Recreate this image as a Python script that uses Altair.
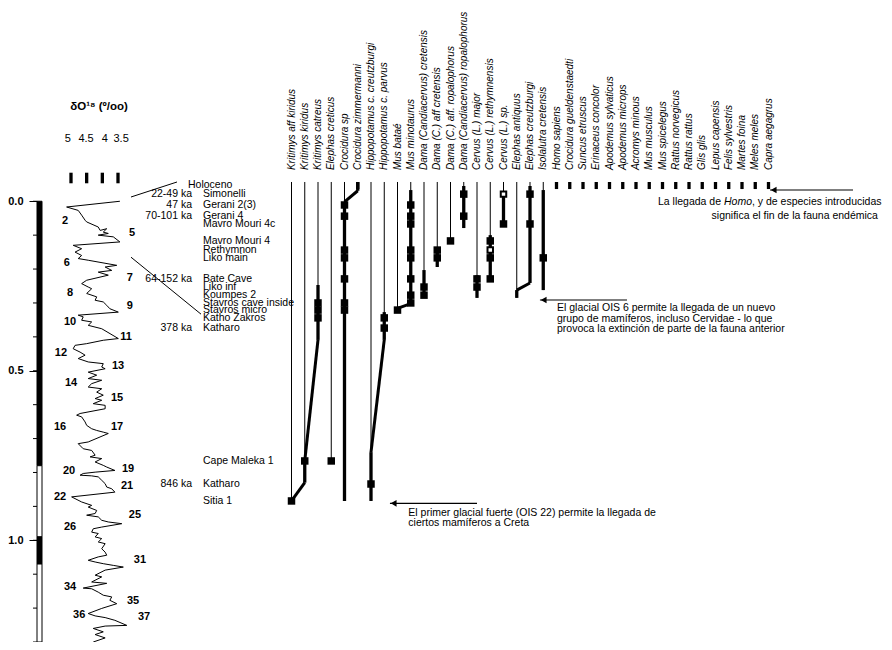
import altair as alt
import pandas as pd

FONT = "Liberation Sans"

# ---------------- data ----------------
# magnetic polarity column (Ma)
polarity_top = [0.0, 0.78, 0.99, 1.07]
polarity_bottom = [0.78, 0.99, 1.07, 1.30]
polarity_state = ["normal", "reversed", "normal", "reversed"]
age_minor_ticks = [round(0.1 * k, 1) for k in range(14)]

# delta O18 curve (age in Ma, value in per mil)
d18_age = [0.000, 0.017, 0.027, 0.041, 0.056, 0.061, 0.076, 0.086, 0.081, 0.091,
           0.095, 0.100, 0.105, 0.120, 0.130, 0.140, 0.150, 0.160, 0.169, 0.174,
           0.189, 0.194, 0.204, 0.209, 0.218, 0.233, 0.243, 0.253, 0.258, 0.272,
           0.282, 0.292, 0.297, 0.307, 0.317, 0.327, 0.336, 0.341, 0.351, 0.356,
           0.366, 0.376, 0.405, 0.410, 0.420, 0.425, 0.435, 0.445, 0.454, 0.464,
           0.474, 0.479, 0.489, 0.494, 0.504, 0.513, 0.523, 0.528, 0.538, 0.548,
           0.553, 0.563, 0.572, 0.582, 0.587, 0.597, 0.602, 0.612, 0.626, 0.631,
           0.636, 0.651, 0.661, 0.671, 0.676, 0.681, 0.685, 0.710, 0.715, 0.730,
           0.735, 0.749, 0.754, 0.759, 0.769, 0.779, 0.784, 0.794, 0.799, 0.803,
           0.808, 0.810, 0.813, 0.823, 0.833, 0.843, 0.848, 0.858, 0.872, 0.887,
           0.897, 0.902, 0.912, 0.921, 0.926, 0.931, 0.941, 0.946, 0.951, 0.961,
           0.966, 0.976, 0.980, 0.990, 0.995, 1.005, 1.010, 1.025, 1.035, 1.044,
           1.049, 1.059, 1.064, 1.069, 1.074, 1.079, 1.088, 1.103, 1.108, 1.123,
           1.127, 1.141, 1.143, 1.153, 1.162, 1.167, 1.177, 1.187, 1.201, 1.216,
           1.223, 1.228, 1.236, 1.251, 1.253, 1.260, 1.270, 1.278, 1.288, 1.300]
d18_value = [3.44, 5.14, 4.77, 4.66, 4.55, 4.50, 4.13, 4.07, 3.86, 3.97,
             3.81, 4.13, 3.65, 3.44, 4.93, 4.66, 4.87, 4.66, 4.77, 4.45,
             3.54, 3.91, 3.70, 4.13, 3.81, 4.50, 4.66, 4.45, 4.34, 4.50,
             4.18, 4.23, 3.97, 3.86, 3.76, 3.49, 4.77, 4.61, 4.66, 4.34,
             4.45, 4.02, 3.49, 3.97, 4.50, 4.87, 4.93, 4.71, 4.55, 4.77,
             4.45, 3.97, 4.02, 3.91, 4.45, 4.18, 4.45, 4.02, 4.34, 4.45,
             4.02, 4.18, 3.97, 4.23, 4.02, 4.29, 3.91, 3.91, 4.71, 4.82,
             4.66, 4.55, 4.50, 4.34, 4.18, 3.97, 3.81, 4.45, 4.77, 4.61,
             4.34, 4.23, 4.39, 4.02, 4.23, 3.97, 3.86, 3.60, 4.23, 4.61,
             4.71, 4.34, 4.13, 4.02, 3.91, 3.86, 3.70, 3.60, 4.98, 4.66,
             4.34, 4.45, 4.18, 4.23, 4.50, 4.13, 4.02, 3.81, 3.38, 4.02,
             4.29, 4.34, 4.13, 4.23, 4.02, 4.13, 3.91, 4.02, 3.91, 3.86,
             4.13, 4.45, 4.23, 3.97, 3.65, 3.33, 3.91, 4.23, 4.02, 4.34,
             3.86, 4.61, 4.34, 4.13, 3.97, 3.70, 3.76, 3.54, 4.02, 4.45,
             4.23, 3.91, 3.60, 3.22, 3.91, 4.29, 3.97, 4.23, 3.91, 4.29]

# marine isotope stage labels
stage_name = ["2", "5", "6", "7", "8", "9", "10", "11", "12", "13", "14", "15", "16",
              "17", "19", "20", "21", "22", "25", "26", "31", "34", "35", "36", "37"]
stage_age = [0.058, 0.095, 0.183, 0.227, 0.271, 0.310, 0.357, 0.401, 0.448, 0.487,
             0.537, 0.581, 0.667, 0.667, 0.791, 0.796, 0.841, 0.873, 0.926, 0.962,
             1.059, 1.139, 1.180, 1.221, 1.227]
stage_d18 = [5.19, 3.05, 5.13, 3.12, 5.03, 3.12, 5.03, 3.24, 5.32, 3.50,
             5.00, 3.53, 5.35, 3.53, 3.18, 5.06, 3.21, 5.35, 2.96, 5.03,
             2.80, 5.03, 3.02, 4.74, 2.67]

d18_tick_values = [5, 4.5, 4, 3.5]
d18_tick_labels = ["5", "4.5", "4", "3.5"]
d18_label_at = [5.10, 4.52, 3.92, 3.40]

# connector lines from the curve to the site list (d18, age)
conn_d1 = [3.085, 3.085]
conn_a1 = [-0.0125, 0.165]
conn_d2 = [1.617, 0.851]
conn_a2 = [-0.0568, 0.333]

# sites, in stratigraphic plotting position (age-axis units)
site_name = ["Holoceno", "Simonelli", "Gerani 2(3)", "Gerani 4", "Mavro Mouri 4c",
             "Mavro Mouri 4", "Rethymnon", "Liko main", "Bate Cave", "Liko inf",
             "Koumpes 2", "Stavros cave inside", "Stavros micro", "Katho Zakros",
             "Katharo", "Cape Maleka 1", "Katharo", "Sitia 1"]
site_pos = [-0.048, -0.021, 0.011, 0.044, 0.067, 0.117, 0.144, 0.167, 0.229, 0.253,
            0.277, 0.300, 0.321, 0.344, 0.374, 0.766, 0.834, 0.884]
site_age_label = ["", "22-49 ka", "47 ka", "70-101 ka", "", "", "", "", "64-152 ka", "",
                  "", "", "", "", "378 ka", "", "846 ka", ""]

taxa = ["Kritimys aff kiridus", "Kritimys kiridus", "Kritimys catreus", "Elephas creticus",
        "Crocidura sp", "Crocidura zimmermanni", "Hippopotamus c. creutzburgi",
        "Hippopotamus c. parvus", "Mus bataé", "Mus minotaurus",
        "Dama (Candiacervus) cretensis", "Dama (C.) aff cretensis",
        "Dama (C.) aff. ropalophorus", "Dama (Candiacervus) ropalophorus",
        "Cervus (L.) major", "Cervus (L.) rethymnensis", "Cervus (L.) sp.",
        "Elephas antiquus", "Elephas creutzburgi", "Isolalutra cretensis",
        "Homo sapiens", "Crocidura gueldenstaedti", "Suncus etruscus", "Erinaceus concolor",
        "Apodemus sylvaticus", "Apodemus microps", "Acromys minous", "Mus musculus",
        "Mus spicelegus", "Rattus norvegicus", "Rattus rattus", "Glis glis",
        "Lepus capensis", "Felis sylvestris", "Martes foina", "Meles meles", "Capra aegagrus"]
n_fossil = 20
HEADER_TOP = -0.0568
EXTANT_BOTTOM = -0.036
LABEL_BASE = -0.092

# occurrences: taxon index, site index, open symbol
occ_taxon = [0, 1, 2, 2, 2, 3, 4, 4, 4, 4, 4, 4, 4, 6, 7, 7, 8,
             9, 9, 9, 9, 9, 9, 9, 9, 10, 10, 11, 11, 12, 13, 13, 14, 14,
             15, 15, 15, 15, 16, 16, 18, 18, 19]
occ_site = [17, 15, 11, 12, 13, 15, 2, 3, 6, 7, 8, 11, 12, 16, 13, 14, 12,
            2, 3, 4, 6, 7, 8, 10, 11, 9, 10, 6, 7, 5, 1, 3, 8, 9,
            5, 6, 7, 8, 1, 4, 1, 4, 7]
occ_open = [0, 0, 0, 0, 0, 0, 0, 0, 0, 0, 0, 0, 0, 0, 0, 0, 0,
            0, 0, 0, 0, 0, 0, 0, 0, 0, 0, 0, 0, 0, 0, 0, 0, 0,
            0, 1, 0, 0, 1, 0, 0, 0, 0]

# thick range bars: taxon index, top, bottom
range_taxon = [1, 2, 4, 5, 6, 7, 9, 10, 11, 13, 14, 15, 16, 17, 18, 19]
range_top = [0.766, 0.247, 0.002, HEADER_TOP, 0.74, 0.327, -0.033, 0.203, 0.135,
             -0.045, 0.218, 0.100, -0.021, 0.262, -0.045, -0.033]
range_bottom = [0.830, 0.409, 0.884, -0.031, 0.884, 0.409, 0.306, 0.285, 0.194,
                0.079, 0.285, 0.238, 0.067, 0.285, 0.241, 0.262]

# evolutionary links between lineages
link_from = [5, 2, 1, 7, 9, 18]
link_from_pos = [-0.031, 0.409, 0.830, 0.409, 0.302, 0.241]
link_to = [4, 1, 0, 6, 8, 17]
link_to_pos = [0.002, 0.766, 0.884, 0.740, 0.316, 0.262]

# annotation arrows (taxon-axis units, age-axis units)
arrow_tip = [36.11, 18.75, 7.43]
arrow_tail = [42.38, 25.32, 14.0]
arrow_pos = [-0.0332, 0.2912, 0.891]

note_text = ["La llegada de ", "Homo", ", y de especies introducidas",
             "significa el fin de la fauna endémica",
             "El glacial OIS 6 permite la llegada de un nuevo",
             "grupo de mamíferos, incluso Cervidae - lo que",
             "provoca la extinción de parte de la fauna anterior",
             "El primer glacial fuerte (OIS 22) permite la llegada de",
             "ciertos mamíferos a Creta"]
note_x = [27.66, 32.64, 34.75, 44.26, 20.04, 20.04, 20.04, 8.82, 8.82]
note_pos = [0.0022, 0.0022, 0.0022, 0.0435, 0.3134, 0.3459, 0.3777, 0.9186, 0.95]
note_align = ["left", "left", "left", "right", "left", "left", "left", "left", "left"]
note_italic = [0, 1, 0, 0, 0, 0, 0, 0, 0]

# ---------------- tables ----------------
pol_df = pd.DataFrame({"top": polarity_top, "bottom": polarity_bottom, "state": polarity_state})
minor_df = pd.DataFrame({"v": age_minor_ticks})
curve_df = pd.DataFrame({"i": range(len(d18_age)), "age": d18_age, "d": d18_value})
stage_df = pd.DataFrame({"name": stage_name, "age": stage_age, "d": stage_d18})
dtick_df = pd.DataFrame({"d": d18_tick_values, "lab": d18_tick_labels, "ld": d18_label_at,
                         "t1": [-0.0842] * 4, "t2": [-0.053] * 4, "ly": [-0.1836] * 4})
title_df = pd.DataFrame({"d": [4.106], "age": [-0.278], "t": ["δO¹⁸ (º/oo)"]})
conn_df = pd.DataFrame({"d1": conn_d1, "a1": conn_a1, "d2": conn_d2, "a2": conn_a2})
site_df = pd.DataFrame({"name": site_name, "pos": site_pos, "age": site_age_label})
taxa_df = pd.DataFrame({"ti": range(len(taxa)), "name": taxa, "y": [LABEL_BASE] * len(taxa)})

end = {}
for t, s in zip(occ_taxon, occ_site):
    end[t] = max(end.get(t, -1), site_pos[s])
for t, b in zip(range_taxon, range_bottom):
    end[t] = max(end.get(t, -1), b)
for a, ap, b, bp in zip(link_from, link_from_pos, link_to, link_to_pos):
    end[a] = max(end.get(a, -1), ap)
    end[b] = max(end.get(b, -1), bp)
thin_df = pd.DataFrame({"ti": list(range(n_fossil)), "top": [HEADER_TOP] * n_fossil,
                        "bottom": [end[t] for t in range(n_fossil)]})
extant_idx = [5] + list(range(n_fossil, len(taxa)))
extant_df = pd.DataFrame({"ti": extant_idx, "top": [HEADER_TOP] * len(extant_idx),
                          "bottom": [EXTANT_BOTTOM] * len(extant_idx)})
range_df = pd.DataFrame({"ti": range_taxon, "top": range_top, "bottom": range_bottom})
link_df = pd.DataFrame({"a": link_from, "ap": link_from_pos, "b": link_to, "bp": link_to_pos})
occ_df = pd.DataFrame({"ti": occ_taxon, "pos": [site_pos[s] for s in occ_site], "open": occ_open})
arrow_df = pd.DataFrame({"tip": arrow_tip, "tail": arrow_tail, "pos": arrow_pos,
                         "head": [x + 0.28 for x in arrow_tip]})
note_df = pd.DataFrame({"t": note_text, "x": note_x, "pos": note_pos,
                        "align": note_align, "it": note_italic})

# ---------------- scales ----------------
yscale = alt.Scale(domain=[-0.57, 1.3], reverse=True, nice=False, zero=False)
yaxis = alt.Axis(values=[0.0, 0.5, 1.0], format=".1f", domain=False, tickSize=8,
                 tickColor="black", tickWidth=1, labelPadding=6, labelFont=FONT,
                 labelFontSize=11, labelFontWeight="bold", labelColor="black",
                 grid=False, title=None)


def Y(f):
    return alt.Y(f, type="quantitative", scale=yscale, axis=yaxis, title=None)


dscale = alt.Scale(domain=[3.5, 5.0], range=[81, 34], nice=False, zero=False)
tscale = alt.Scale(domain=[0, 36], range=[254.5, 731.5], nice=False, zero=False)


def XD(f):
    return alt.X(f, type="quantitative", scale=dscale, axis=None)


def XT(f):
    return alt.X(f, type="quantitative", scale=tscale, axis=None)


txt = dict(font=FONT, color="black")

# ---------------- layers ----------------
polarity = alt.Chart(pol_df).mark_rect(stroke="black", strokeWidth=1).encode(
    x=alt.value(0), x2=alt.value(5), y=Y("top"), y2=alt.Y2("bottom"),
    fill=alt.Fill("state:N", scale=alt.Scale(domain=["normal", "reversed"], range=["black", "white"]), legend=None))
minor = alt.Chart(minor_df).mark_rule(color="black", strokeWidth=1).encode(
    x=alt.value(-4), x2=alt.value(0), y=Y("v"))
curve = alt.Chart(curve_df).mark_line(color="black", strokeWidth=1).encode(
    x=XD("d"), y=Y("age"), order="i:Q")
stages = alt.Chart(stage_df).mark_text(fontSize=11, fontWeight="bold", align="center",
                                       baseline="middle", **txt).encode(
    x=XD("d"), y=Y("age"), text="name:N")
dticks = alt.Chart(dtick_df).mark_rule(color="black", strokeWidth=3.3).encode(
    x=XD("d"), y=Y("t1"), y2=alt.Y2("t2"))
dlabels = alt.Chart(dtick_df).mark_text(fontSize=11, align="center", baseline="middle", **txt).encode(
    x=XD("ld"), y=Y("ly"), text="lab:N")
dtitle = alt.Chart(title_df).mark_text(fontSize=11.5, fontWeight="bold", align="center",
                                       baseline="middle", **txt).encode(
    x=XD("d"), y=Y("age"), text="t:N")
conns = alt.Chart(conn_df).mark_rule(color="black", strokeWidth=1).encode(
    x=XD("d1"), x2=alt.X2("d2"), y=Y("a1"), y2=alt.Y2("a2"))

site_names = alt.Chart(site_df).transform_filter("datum.name != 'Holoceno'").mark_text(
    fontSize=10.5, align="left", baseline="middle", **txt).encode(
    x=alt.value(166), y=Y("pos"), text="name:N")
holo = alt.Chart(site_df).transform_filter("datum.name == 'Holoceno'").mark_text(
    fontSize=10.5, align="left", baseline="middle", **txt).encode(
    x=alt.value(151), y=Y("pos"), text="name:N")
site_ages = alt.Chart(site_df).transform_filter("datum.age != ''").mark_text(
    fontSize=10.5, align="right", baseline="middle", **txt).encode(
    x=alt.value(155), y=Y("pos"), text="age:N")

taxa_labels = alt.Chart(taxa_df).mark_text(angle=270, align="left", baseline="middle",
                                          fontSize=10, fontStyle="italic", **txt).encode(
    x=XT("ti"), y=Y("y"), text="name:N")
thin = alt.Chart(thin_df).mark_rule(color="black", strokeWidth=1).encode(
    x=XT("ti"), y=Y("top"), y2=alt.Y2("bottom"))
extant = alt.Chart(extant_df).mark_rule(color="black", strokeWidth=3.3, strokeCap="butt").encode(
    x=XT("ti"), y=Y("top"), y2=alt.Y2("bottom"))
ranges = alt.Chart(range_df).mark_rule(color="black", strokeWidth=3.3, strokeCap="butt").encode(
    x=XT("ti"), y=Y("top"), y2=alt.Y2("bottom"))
links = alt.Chart(link_df).mark_rule(color="black", strokeWidth=3, strokeCap="butt").encode(
    x=XT("a"), x2=alt.X2("b"), y=Y("ap"), y2=alt.Y2("bp"))
filled_sq = alt.Chart(occ_df).transform_filter("datum.open == 0").mark_square(
    size=56, color="black", opacity=1).encode(x=XT("ti"), y=Y("pos"))
open_sq = alt.Chart(occ_df).transform_filter("datum.open == 1").mark_square(
    size=30, fill="white", stroke="black", strokeWidth=2, opacity=1, filled=True).encode(
    x=XT("ti"), y=Y("pos"))

arrows = alt.Chart(arrow_df).mark_rule(color="black", strokeWidth=1.2).encode(
    x=XT("tip"), x2=alt.X2("tail"), y=Y("pos"))
heads = alt.Chart(arrow_df).mark_point(shape="triangle-left", filled=True, size=45,
                                       color="black", opacity=1).encode(x=XT("head"), y=Y("pos"))
notes_left = alt.Chart(note_df).transform_filter("datum.align == 'left' && datum.it == 0").mark_text(
    fontSize=10.5, align="left", baseline="middle", **txt).encode(x=XT("x"), y=Y("pos"), text="t:N")
notes_right = alt.Chart(note_df).transform_filter("datum.align == 'right'").mark_text(
    fontSize=10.5, align="right", baseline="middle", **txt).encode(x=XT("x"), y=Y("pos"), text="t:N")
notes_it = alt.Chart(note_df).transform_filter("datum.it == 1").mark_text(
    fontSize=10.5, align="left", baseline="middle", fontStyle="italic", **txt).encode(
    x=XT("x"), y=Y("pos"), text="t:N")

chart = alt.layer(
    polarity, minor, curve, stages, dticks, dlabels, dtitle, conns,
    site_names, holo, site_ages,
    taxa_labels, thin, extant, ranges, links, filled_sq, open_sq,
    arrows, heads, notes_left, notes_right, notes_it,
).resolve_scale(x="independent").properties(
    width=847, height=634, autosize="none",
    padding={"left": 29, "top": 0, "right": 0, "bottom": 0},
    background="white",
).configure_view(stroke=None)

chart.save("out.html", embed_options={"renderer": "svg", "actions": False})
